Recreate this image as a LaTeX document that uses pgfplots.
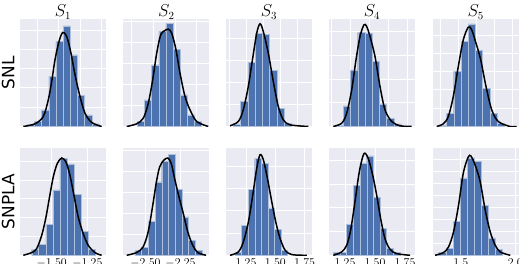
\documentclass[border=0pt]{standalone}
\usepackage{pgfplots}
\pgfplotsset{compat=1.18}
\usepackage{fontspec}
\newfontfamily\dejavu{DejaVu Sans}
\definecolor{bgc}{HTML}{EAEAF2}
\definecolor{barc}{HTML}{4C72B0}
\pgfplotsset{
  panel/.style={width=86bp, height=107.5bp, scale only axis, anchor=south west,
    axis background/.style={fill=bgc}, axis line style={draw=none},
    grid=major, major grid style={white, line width=0.9bp},
    major tick length=0pt, yticklabels={}, ymin=0, ymax=107.5,
    title style={at={(axis description cs:0.5,1)}, anchor=base, yshift=-3.5bp, inner sep=0pt, font=\fontsize{16}{16}\selectfont},
    ylabel style={at={(axis description cs:-0.064,0.5)}, anchor=base, inner sep=0pt, font=\dejavu\fontsize{17}{17}\selectfont},
  },
  toprow/.style={panel, xmin=0, xmax=86, xticklabels={}},
  botrow/.style={panel, ymax=107.6, height=107.6bp,
    xticklabel style={font=\fontsize{11.5}{11.5}\selectfont, inner sep=0pt, yshift=-3bp,
      /pgf/number format/.cd, fixed, fixed zerofill, precision=2}},
  hbar/.style={ybar interval, fill=barc, draw=white!55!barc, line width=0.4bp},
  kde/.style={black, line width=1.5bp, smooth, tension=0.5},
}
\begin{document}
\begin{tikzpicture}
\useasboundingbox (0,0) rectangle (520bp,264bp);
% ---------------- top row ----------------
\begin{axis}[toprow, at={(20bp,137.5bp)}, title={$S_1$}, ylabel={SNL}, xtick={17,38.5,60,81.7}, ytick distance=19.3]
\addplot[hbar] coordinates {(7.4,2) (14.5,5) (21.7,16.7) (28.9,50) (36,85) (43.2,100.7) (50.3,71.7) (57.5,31) (64.7,11.7) (71.8,2.7) (79,0)};
\addplot[kde] coordinates {(3.3,0) (15,2.7) (23.3,10) (28.3,26.7) (31.7,45) (35,66.7) (39,85) (42.7,94) (46.7,90) (51,73.3) (55,51.7) (60,30) (65,13.3) (71.7,4) (81.7,0)};
\end{axis}
\begin{axis}[toprow, at={(123.3bp,137.5bp)}, title={$S_2$}, xtick={8.3,30,51.7,73.3}, ytick distance=21]
\addplot[hbar] coordinates {(14,5) (21.15,26.7) (28.3,61.7) (35.45,95) (42.6,103.3) (49.75,77.3) (56.9,31.7) (64.05,11.7) (71.2,5) (78.35,0)};
\addplot[kde] coordinates {(3.4,0) (13.4,2.7) (20,8.3) (25,23.3) (29.4,46.7) (33.4,73.3) (37.4,91.7) (41.7,96) (45,97.3) (48.4,93.3) (52.7,76.7) (56.7,53.3) (61.7,30) (66.7,16.7) (73.4,5) (85,0)};
\end{axis}
\begin{axis}[toprow, at={(226bp,137.5bp)}, title={$S_3$}, xtick={3,20,37,54,71}, ytick distance=22]
\addplot[hbar] coordinates {(7.3,2.7) (14.55,25) (21.8,64) (29.05,93.3) (36.3,92) (43.55,56) (50.8,18.3) (58.05,3.3) (65.3,0)};
\addplot[kde] coordinates {(4,0.7) (12.3,5) (17.3,16.7) (22.3,40) (26.7,68.3) (30.7,93.3) (34,102.7) (37.3,95) (42.3,73.3) (47.3,45) (52.3,20) (57.3,6.7) (64,1.7) (82.3,0)};
\end{axis}
\begin{axis}[toprow, at={(329bp,137.5bp)}, title={$S_4$}, ylabel={}, xtick={2,21,40,59,78}, ytick distance=23.7]
\addplot[hbar] coordinates {(7,1.7) (14.2,20.7) (21.4,56.7) (28.7,94) (35.9,93.3) (43.1,65) (50.3,22.7) (57.5,8.3) (64.8,2.7) (72,0)};
\addplot[kde] coordinates {(4.3,0) (12.7,3.3) (17.7,13.3) (22.7,36.7) (27,66.7) (31,90) (35,101.7) (37.7,100) (41,90) (46,70) (51,40) (56,16.7) (62.7,5) (71,0.7) (82.7,0)};
\end{axis}
\begin{axis}[toprow, at={(432.7bp,137.5bp)}, title={$S_5$}, xtick={8,26,44,62,80}, ytick distance=18.3]
\addplot[hbar] coordinates {(6.6,1.7) (13.8,13.3) (21.0,55) (28.3,85) (35.5,102.7) (42.7,76) (49.9,38.3) (57.1,13.3) (64.4,3.3) (71.6,0)};
\addplot[kde] coordinates {(4,0) (10.6,2.7) (15.6,10) (20.6,30) (25.6,60) (30.6,86.7) (35.6,99.3) (39,96.7) (43.3,83.3) (48,66.7) (53.3,40) (59,16.7) (65.6,5) (77.3,0) (84,0)};
\end{axis}
% ---------------- bottom row ----------------
\begin{axis}[botrow, at={(20bp,8.7bp)}, ylabel={SNPLA}, xmin=-1.722, xmax=-1.1195, xtick={-1.75,-1.5,-1.25,-1}, ytick distance=18.8]
\addplot[hbar] coordinates {(-1.640,6) (-1.591,10.7) (-1.541,31) (-1.492,65.5) (-1.443,97) (-1.393,91.5) (-1.344,61) (-1.295,24) (-1.246,6) (-1.197,0)};
\addplot[kde] coordinates {(-1.699,0) (-1.640,2.7) (-1.605,6.7) (-1.570,20) (-1.542,36.7) (-1.517,56.7) (-1.489,78.3) (-1.461,91.7) (-1.430,97.3) (-1.400,93.3) (-1.372,80) (-1.344,60) (-1.314,38.3) (-1.279,21.7) (-1.244,10) (-1.197,2.7) (-1.150,0)};
\end{axis}
\begin{axis}[botrow, at={(123.3bp,8.7bp)}, xmin=-2.658, xmax=-2.045, xtick={-2.75,-2.5,-2.25,-2}, ytick distance=21]
\addplot[hbar] coordinates {(-2.575,5) (-2.527,8.3) (-2.479,34) (-2.431,73.3) (-2.384,94) (-2.336,100.7) (-2.288,66) (-2.240,38.3) (-2.192,15) (-2.144,5) (-2.096,0)};
\addplot[kde] coordinates {(-2.634,0) (-2.564,2.7) (-2.517,8.3) (-2.481,23.3) (-2.450,48.3) (-2.422,73.3) (-2.399,88.3) (-2.370,95) (-2.340,97.3) (-2.316,91.7) (-2.292,76.7) (-2.264,60) (-2.233,43.3) (-2.198,23.3) (-2.163,10) (-2.127,2.7) (-2.068,0)};
\end{axis}
\begin{axis}[botrow, at={(226bp,8.7bp)}, xmin=1.079, xmax=1.813, xtick={1,1.25,1.5,1.75}, ytick distance=22.3]
\addplot[hbar] coordinates {(1.156,2.7) (1.212,30) (1.268,66) (1.324,96.7) (1.380,91.7) (1.436,47.3) (1.492,26) (1.548,5) (1.604,0)};
\addplot[kde] coordinates {(1.113,0) (1.184,3.3) (1.227,13.3) (1.270,33.3) (1.307,60) (1.341,86.7) (1.370,100.7) (1.399,95) (1.433,76.7) (1.470,53.3) (1.507,31.7) (1.541,16.7) (1.584,5) (1.641,0.7) (1.770,0)};
\end{axis}
\begin{axis}[botrow, at={(329bp,8.7bp)}, xmin=1.117, xmax=1.833, xtick={1,1.25,1.5,1.75}, ytick distance=23.7]
\addplot[hbar] coordinates {(1.153,2.7) (1.208,2.7) (1.264,30.7) (1.319,70) (1.375,91.7) (1.431,99.3) (1.486,58.3) (1.542,26.7) (1.597,6.7) (1.653,2.7) (1.708,0)};
\addplot[kde] coordinates {(1.153,0) (1.222,3.3) (1.264,10) (1.297,25) (1.333,53.3) (1.369,83.3) (1.408,101.7) (1.444,96.7) (1.481,80) (1.514,60) (1.547,36.7) (1.583,16.7) (1.625,6) (1.681,1.7) (1.792,0)};
\end{axis}
\begin{axis}[botrow, at={(432.7bp,8.7bp)}, xmin=1.242, xmax=2.031, xtick={1.5,2}, ytick distance=12,
  xticklabel style={/pgf/number format/precision=1}]
\addplot[hbar] coordinates {(1.294,2.7) (1.365,6.7) (1.433,34) (1.494,77.3) (1.561,97.3) (1.626,94) (1.687,50) (1.755,17.3) (1.816,6) (1.883,0)};
\addplot[kde] coordinates {(1.264,0) (1.340,2.7) (1.387,8.3) (1.433,23.3) (1.479,50) (1.525,83.3) (1.580,100) (1.632,90) (1.678,73.3) (1.724,45) (1.770,23.3) (1.816,10) (1.862,3.3) (1.954,0)};
\end{axis}
\end{tikzpicture}
\end{document}
